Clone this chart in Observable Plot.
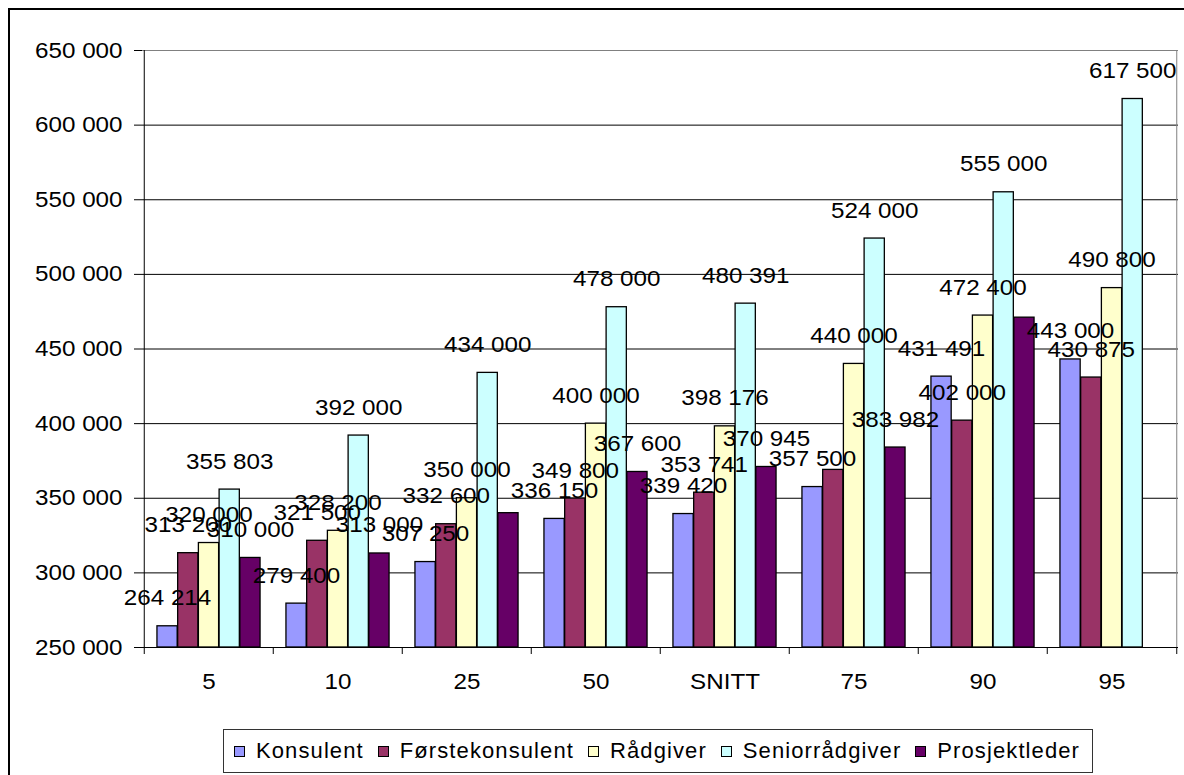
<!DOCTYPE html>
<html><head><meta charset="utf-8">
<script src="https://cdn.jsdelivr.net/npm/d3@7"></script>
<script src="https://cdn.jsdelivr.net/npm/@observablehq/plot@0.6"></script>
<style>
html,body{margin:0;padding:0;background:#fff;overflow:hidden;width:1184px;height:775px;}
#frame{position:absolute;left:8px;top:8px;width:1200px;height:800px;border-left:2px solid #000;border-top:2px solid #000;}
#chart{position:absolute;left:0;top:0;}
#legend{position:absolute;left:223px;top:729px;width:870px;height:44px;border:1px solid #333;box-sizing:border-box;display:flex;align-items:center;padding-left:10px;font-family:"Liberation Sans",Arial,sans-serif;font-size:22px;color:#000;}
#legend .item{display:flex;align-items:center;margin-right:14px;}
#legend .sw{width:11px;height:11px;border:1px solid #000;margin-right:11px;box-sizing:border-box;}
#legend .lab{letter-spacing:1.1px;}
</style></head><body>
<div id="frame"></div><div id="chart"></div><div id="legend"></div>
<script>
const categories = ["5", "10", "25", "50", "SNITT", "75", "90", "95"];
const series = ["Konsulent", "Førstekonsulent", "Rådgiver", "Seniorrådgiver", "Prosjektleder"];
const colors = ["#9999FF", "#993366", "#FFFFCC", "#CCFFFF", "#660066"];
const konsulent = [264214, 279400, 307250, 336150, 339420, 357500, 431491, 443000];
const forstekonsulent = [313200, 321500, 332600, 349800, 353741, 369000, 402000, 430875];
const radgiver = [320000, 328200, 350000, 400000, 398176, 440000, 472400, 490800];
const seniorradgiver = [355803, 392000, 434000, 478000, 480391, 524000, 555000, 617500];
const prosjektleder = [310000, 313000, 340000, 367600, 370945, 383982, 471000, null];
const yTicks = [250000, 300000, 350000, 400000, 450000, 500000, 550000, 600000, 650000];
// data labels that are not shown in the original chart
const hiddenLabels = [["Prosjektleder", "25"], ["Førstekonsulent", "75"], ["Prosjektleder", "90"]];

const W = 1184, H = 700, ML = 142, MR = 6, MT = 50, MB = 53;
const step = (W - ML - MR) / categories.length;
const groupPad = 0.1 * step;
const bw = 0.8 * step / series.length;
const fmt = d3.formatLocale({thousands: " ", grouping: [3], decimal: ","}).format(",d");

const values = [konsulent, forstekonsulent, radgiver, seniorradgiver, prosjektleder];
const data = series.flatMap((s, i) => categories.map((c, j) => ({series: s, cat: c, value: values[i][j], i})))
  .filter(d => d.value != null);
const isHidden = d => hiddenLabels.some(([s, c]) => s === d.series && c === d.cat);

const marks = [
  Plot.gridY(yTicks.slice(1, -1), {stroke: "#000", strokeOpacity: 1}),
  Plot.ruleY([650000], {stroke: "#808080"}),
  Plot.ruleX([categories[categories.length - 1]], {x: d => d, dx: step / 2, stroke: "#808080"}),
  ...series.map((s, i) => Plot.barY(data.filter(d => d.series === s), {
    x: "cat", y1: 250000, y2: "value", fill: colors[i], stroke: "#000", strokeWidth: 1.3,
    insetLeft: groupPad + i * bw, insetRight: groupPad + (series.length - 1 - i) * bw
  })),
  Plot.ruleY([250000], {stroke: "#000"}),
  Plot.ruleX([categories[0]], {x: d => d, dx: -step / 2, stroke: "#000"}),
  Plot.ruleX(categories, {x: d => d, y1: 250000, y2: 250000, dx: -step / 2, insetBottom: -7, stroke: "#000"}),
  Plot.ruleX([categories[categories.length - 1]], {x: d => d, y1: 250000, y2: 250000, dx: step / 2, insetBottom: -7, stroke: "#000"}),
  Plot.axisY({ticks: yTicks, tickSize: 8, tickPadding: 12, tickFormat: fmt, fontSize: 22, stroke: "#000"}),
  Plot.axisX({tickSize: 0, tickPadding: 26, fontSize: 22}),
  ...series.map((s, i) => Plot.text(data.filter(d => d.series === s && !isHidden(d)), {
    x: "cat", y: "value", text: d => fmt(d.value), dx: (i - 2) * bw, dy: -21,
    lineAnchor: "bottom", textAnchor: "middle", fontSize: 22, fill: "#000"
  }))
];

const chart = Plot.plot({
  width: W, height: H,
  marginLeft: ML, marginRight: MR, marginTop: MT, marginBottom: MB,
  style: {fontFamily: "'Liberation Sans', Arial, sans-serif", fontSize: "22px", color: "#000", background: "transparent", overflow: "visible"},
  x: {domain: categories, padding: 0, label: null},
  y: {domain: [250000, 650000], label: null},
  marks
});
// slight horizontal stretch of the text, as in the original picture
chart.querySelectorAll("text").forEach(t => {
  const tr = t.getAttribute("transform");
  if (tr) t.setAttribute("transform", tr + " scale(1.1,1)");
});
document.getElementById("chart").appendChild(chart);

const legend = document.getElementById("legend");
series.forEach((s, i) => {
  const it = document.createElement("div");
  it.className = "item";
  const sw = document.createElement("div");
  sw.className = "sw";
  sw.style.background = colors[i];
  const lab = document.createElement("span");
  lab.className = "lab";
  lab.textContent = s;
  it.appendChild(sw); it.appendChild(lab);
  legend.appendChild(it);
});
</script>
</body></html>
